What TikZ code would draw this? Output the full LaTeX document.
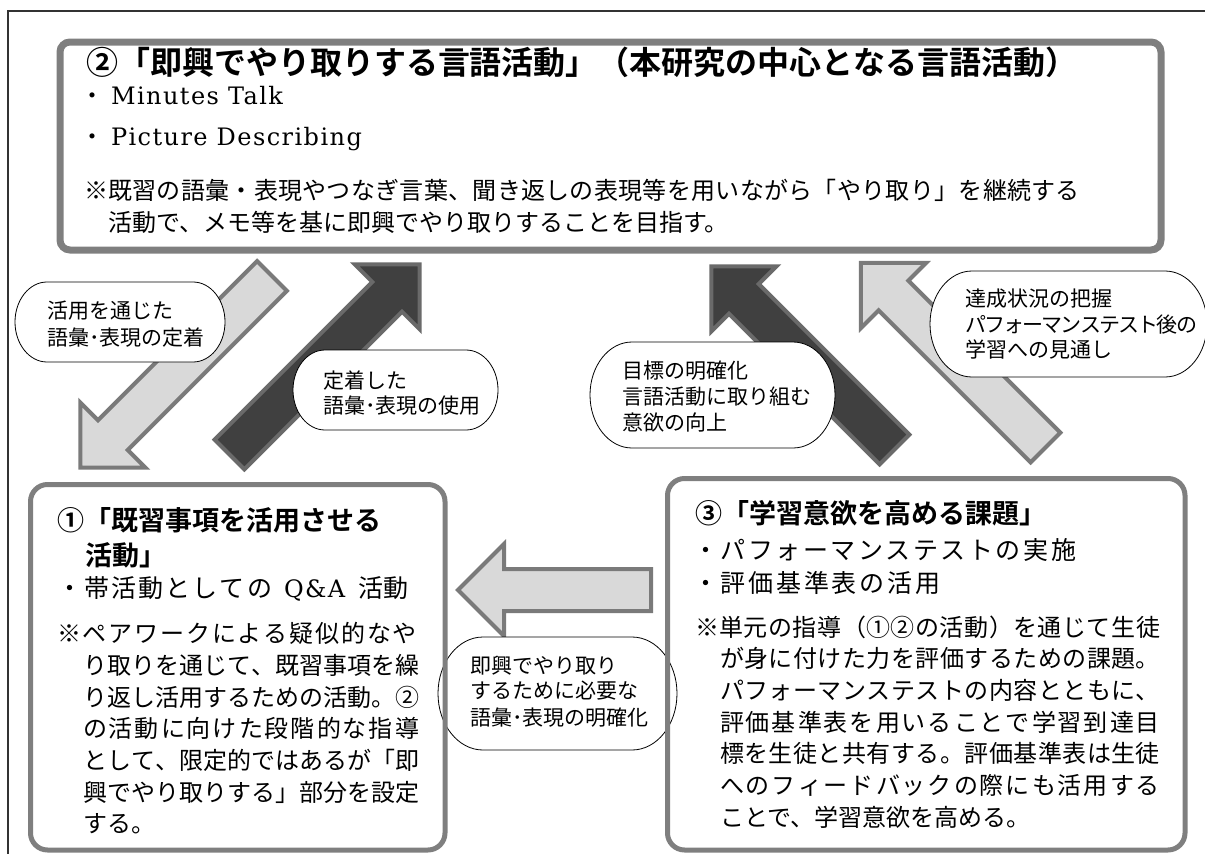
\documentclass[tikz,border=0pt]{standalone}
\usepackage{fontspec}
\newfontfamily\jp{Noto Sans CJK JP}[BoldFont={Noto Sans CJK JP Bold}]
\newfontfamily\latf{DejaVu Serif}[LetterSpace=6]
\definecolor{framec}{HTML}{333333}
\definecolor{boxgray}{HTML}{7F7F7F}
\definecolor{lightfill}{HTML}{D9D9D9}
\definecolor{lightline}{HTML}{7A7A7A}
\definecolor{darkfill}{HTML}{404040}
\definecolor{darkline}{HTML}{6A6A6A}
% spread CJK characters evenly over a given width
\def\jsp#1#2{#1\ifx\relax#2\else\hskip0pt plus1fil minus2pt\expandafter\jsp\expandafter#2\fi}
\newcommand\jfit[2]{\hbox to #1{\jsp#2\relax\relax}}
\newcommand\lat[1]{{\latf\fontsize{24}{24}\selectfont #1}}
% block arrow: style, tail coordinate, angle, length
\newcommand\blockarrow[4]{%
  \draw[#1, shift={(#2)}, rotate=#3] (0,-21) -- ({#4-46},-21) -- ({#4-46},-46) -- (#4,0)
    -- ({#4-46},46) -- ({#4-46},21) -- (0,21) -- cycle;}
% speech bubble with elliptic ends: name, cx, cy, w, h, rx
\newcommand\bubble[6]{%
  \node[bubblebox, minimum width=#4pt, minimum height=#5pt] (#1) at (#2,#3) {};
  \draw[bubbleline] ([xshift=#6pt]#1.north west) -- ([xshift=-#6pt]#1.north east)
    arc[start angle=90, end angle=-90, x radius=#6pt, y radius={#5*0.5pt}]
    -- ([xshift=#6pt]#1.south west)
    arc[start angle=270, end angle=90, x radius=#6pt, y radius={#5*0.5pt}] -- cycle;}
\begin{document}
\begin{tikzpicture}[x=1pt,y=-1pt,
  tx/.style={anchor=base west, inner sep=0pt, outer sep=0pt},
  ttl/.style={tx, font=\jp\bfseries\fontsize{32}{32}\selectfont},
  hd/.style={tx, font=\jp\bfseries\fontsize{27}{27}\selectfont},
  bul/.style={tx, font=\jp\fontsize{25}{25}\selectfont},
  nt/.style={tx, font=\jp\fontsize{24}{24}\selectfont},
  bb/.style={tx, font=\jp\fontsize{21}{21}\selectfont},
  frameline/.style={draw=framec, line width=1.5pt},
  bigbox/.style={rectangle, draw=boxgray, line width=7pt, rounded corners=10pt, inner sep=0pt, outer sep=0pt},
  subbox/.style={rectangle, draw=boxgray, line width=5pt, rounded corners=17pt, inner sep=0pt, outer sep=0pt},
  bubblebox/.style={rectangle, inner sep=0pt, outer sep=0pt},
  bubbleline/.style={draw=black, line width=0.8pt, fill=white},
  lightarrow/.style={fill=lightfill, draw=lightline, line width=4pt, line join=miter},
  darkarrow/.style={fill=darkfill, draw=darkline, line width=4pt, line join=miter},
]
\useasboundingbox (0,0) rectangle (1205,854);

% outer frame (cropped)
\coordinate (fTR) at (1210,11);
\coordinate (fTL) at (8,11);
\coordinate (fBL) at (8,860);
\draw[frameline] (fTR) -- (fTL) -- (fBL);

% block arrows
\coordinate (a1s) at (272,276);
\coordinate (a2s) at (229.5,454.5);
\coordinate (a3s) at (894.5,449.5);
\coordinate (a4s) at (1045.5,447.5);
\coordinate (a5s) at (651,590);
\blockarrow{lightarrow}{a1s}{225}{271}
\blockarrow{darkarrow}{a2s}{45}{269}
\blockarrow{darkarrow}{a3s}{135}{259}
\blockarrow{lightarrow}{a4s}{135}{261}
\blockarrow{lightarrow}{a5s}{180}{193}

% bubbles
\bubble{bub1}{120}{322}{210}{80}{32}
\bubble{bub2}{395.5}{390}{205}{80}{32}
\bubble{bub3}{712.5}{395}{245}{106}{42}
\bubble{bub4}{1068.5}{324}{277}{106}{42}
\bubble{bub5}{557.5}{693.5}{239}{113}{45}

% boxes
\node[bigbox, minimum width=1101pt, minimum height=208pt] (box2) at (610.5,146) {};
\node[subbox, minimum width=414.5pt, minimum height=365.5pt] (box1) at (237.75,667.25) {};
\node[subbox, minimum width=517.5pt, minimum height=371.5pt] (box3) at (926.25,664.25) {};

% top box text
\node[ttl] (t1) at (86,74) {②「即興でやり取りする言語活動」（本研究の中心となる言語活動）};
\node[nt] (t2) at (80,104) {・\hspace{7pt}\lat{Minutes Talk}};
\node[nt] (t3) at (80,145) {・\hspace{7pt}\lat{Picture Describing}};
\node[nt] (t4) at (84,199) {\jfit{996pt}{※既習の語彙・表現やつなぎ言葉、聞き返しの表現等を用いながら「やり取り」を継続する}};
\node[nt] (t5) at (108,231) {活動で、メモ等を基に即興でやり取りすることを目指す。};

% bottom-left box text
\node[hd] (l1) at (57,530) {①「既習事項を活用させる};
\node[hd] (l2) at (85,565) {活動」};
\node[bul] (l3) at (57,597) {\jfit{215pt}{・帯活動としての}\hspace{12pt}\lat{Q\&A}\hspace{13pt}活動};
\node[nt] (l4) at (57,642) {\jfit{360pt}{※ペアワークによる疑似的なや}};
\node[nt] (l5) at (83,674) {\jfit{336pt}{り取りを通じて、既習事項を繰}};
\node[nt] (l6) at (83,706) {\jfit{336pt}{り返し活用するための活動。②}};
\node[nt] (l7) at (83,737) {\jfit{336pt}{の活動に向けた段階的な指導}};
\node[nt] (l8) at (83,769) {\jfit{336pt}{として、限定的ではあるが「即}};
\node[nt] (l9) at (83,801) {\jfit{336pt}{興でやり取りする」部分を設定}};
\node[nt] (l10) at (83,832) {する。};

% bottom-right box text
\node[hd] (r1) at (695,523) {③「学習意欲を高める課題」};
\node[bul] (r2) at (693,559) {\jfit{383pt}{・パフォーマンステストの実施}};
\node[bul] (r3) at (693,592) {\jfit{247pt}{・評価基準表の活用}};
\node[nt] (r4) at (695,636) {\jfit{465pt}{※単元の指導（①②の活動）を通じて生徒}};
\node[nt] (r5) at (720,667) {\jfit{440pt}{が身に付けた力を評価するための課題。}};
\node[nt] (r6) at (720,699) {\jfit{440pt}{パフォーマンステストの内容とともに、}};
\node[nt] (r7) at (720,731) {\jfit{440pt}{評価基準表を用いることで学習到達目}};
\node[nt] (r8) at (720,762) {\jfit{440pt}{標を生徒と共有する。評価基準表は生徒}};
\node[nt] (r9) at (720,794) {\jfit{440pt}{へのフィードバックの際にも活用する}};
\node[nt] (r10) at (720,826) {ことで、学習意欲を高める。};

% bubble texts
\node[bb] (b1a) at (47,318) {活用を通じた};
\node[bb] (b1b) at (47,345) {語彙･表現の定着};
\node[bb] (b2a) at (323,388) {定着した};
\node[bb] (b2b) at (323,413) {語彙･表現の使用};
\node[bb] (b3a) at (622,378) {目標の明確化};
\node[bb] (b3b) at (622,404) {言語活動に取り組む};
\node[bb] (b3c) at (622,430) {意欲の向上};
\node[bb] (b4a) at (965,306) {達成状況の把握};
\node[bb] (b4b) at (965,332) {\jfit{232pt}{パフォーマンステスト後の}};
\node[bb] (b4c) at (965,357) {学習への見通し};
\node[bb] (b5a) at (470,673) {即興でやり取り};
\node[bb] (b5b) at (470,698) {するために必要な};
\node[bb] (b5c) at (470,725) {語彙･表現の明確化};
\end{tikzpicture}
\end{document}
